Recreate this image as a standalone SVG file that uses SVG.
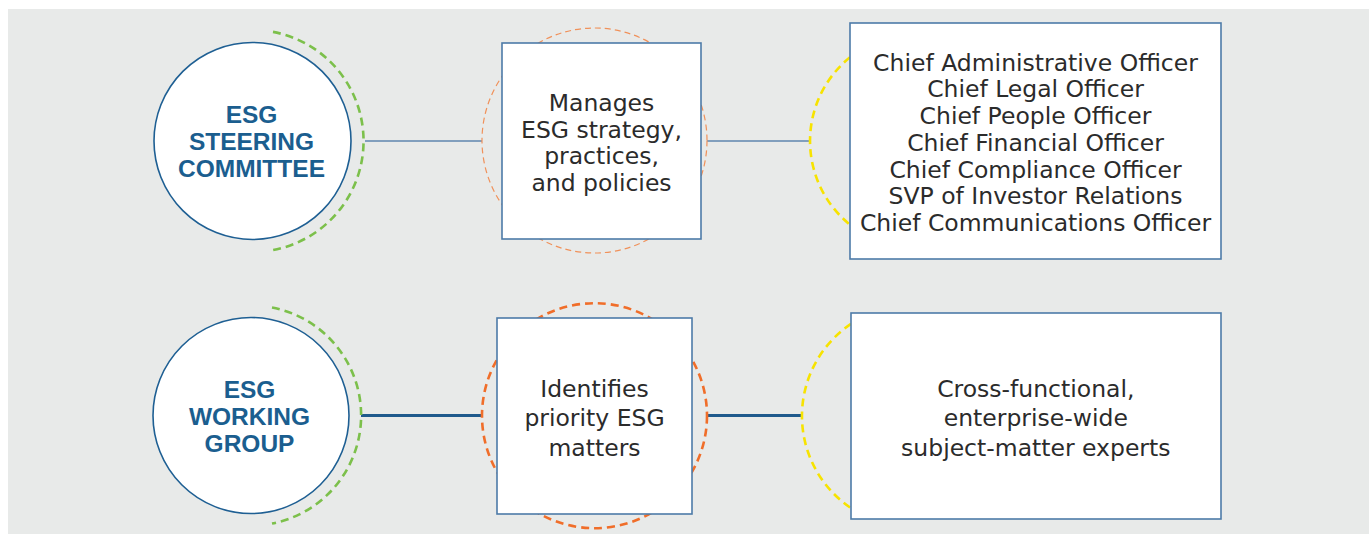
<svg xmlns="http://www.w3.org/2000/svg" width="1369" height="534" viewBox="0 0 1369 534">
<style>
.bg{fill:#E8EAE9}
.circ{fill:#FFFFFF;stroke:#1E5F93;stroke-width:1.6}
.box{fill:#FFFFFF;stroke:#4D7BA8;stroke-width:1.6}
.green{fill:none;stroke:#7CC04B;stroke-width:2.6;stroke-dasharray:8 5}
.orangeThin{fill:none;stroke:#F0915A;stroke-width:1.2;stroke-dasharray:6 4}
.orange{fill:none;stroke:#F06E2A;stroke-width:2.6;stroke-dasharray:8 5}
.yellow{fill:none;stroke:#F7E300;stroke-width:2.6;stroke-dasharray:8 5}
.lineThin{stroke:#5F86AE;stroke-width:1.5}
.lineThick{stroke:#1F5A8C;stroke-width:3}
.head{font-family:"Liberation Sans",Arial,sans-serif;font-weight:bold;font-size:24.5px;fill:#1B5E8F;text-anchor:middle}
.body{font-family:"DejaVu Sans","Liberation Sans",sans-serif;font-size:23.5px;fill:#2B2B2B;text-anchor:middle}
</style>
<rect class="bg" x="8" y="9" width="1361" height="525"/>

<g id="connectors">
  <line class="lineThin" x1="365" y1="141" x2="482" y2="141"/>
  <line class="lineThin" x1="707" y1="141" x2="810" y2="141"/>
  <line class="lineThick" x1="361" y1="415.5" x2="482" y2="415.5"/>
  <line class="lineThick" x1="707" y1="415.5" x2="801" y2="415.5"/>
</g>

<g id="steering-committee">
  <path class="green" d="M 273 31.9 A 111 111 0 0 1 273 250.1"/>
  <circle class="circ" cx="252.5" cy="141" r="98.5"/>
  <text class="head" x="251.5" y="122.7">ESG</text>
  <text class="head" x="251.5" y="150">STEERING</text>
  <text class="head" x="251.5" y="177.3">COMMITTEE</text>
</g>

<g id="manages">
  <circle class="orangeThin" cx="594.5" cy="140.5" r="112.5"/>
  <rect class="box" x="502" y="43" width="199" height="196"/>
  <text class="body" x="601.5" y="111">Manages</text>
  <text class="body" x="601.5" y="137.7">ESG strategy,</text>
  <text class="body" x="601.5" y="164.4">practices,</text>
  <text class="body" x="601.5" y="191">and policies</text>
</g>

<g id="officers">
  <path class="yellow" d="M 850 57.3 A 107.6 107.6 0 0 0 850 224.7"/>
  <rect class="box" x="850" y="23" width="371" height="236"/>
  <text class="body" x="1035.5" y="70.7">Chief Administrative Officer</text>
  <text class="body" x="1035.5" y="97.4">Chief Legal Officer</text>
  <text class="body" x="1035.5" y="124.1">Chief People Officer</text>
  <text class="body" x="1035.5" y="150.8">Chief Financial Officer</text>
  <text class="body" x="1035.5" y="177.5">Chief Compliance Officer</text>
  <text class="body" x="1035.5" y="204.2">SVP of Investor Relations</text>
  <text class="body" x="1035.5" y="230.9">Chief Communications Officer</text>
</g>

<g id="working-group">
  <path class="green" d="M 272 307.5 A 110 110 0 0 1 272 523.5"/>
  <circle class="circ" cx="251" cy="415.5" r="98"/>
  <text class="head" x="249.5" y="398.3">ESG</text>
  <text class="head" x="249.5" y="425">WORKING</text>
  <text class="head" x="249.5" y="452.3">GROUP</text>
</g>

<g id="identifies">
  <circle class="orange" cx="594.5" cy="415.7" r="112.5"/>
  <rect class="box" x="497" y="318" width="195" height="196"/>
  <text class="body" x="594.5" y="396.7">Identifies</text>
  <text class="body" x="594.5" y="426.2">priority ESG</text>
  <text class="body" x="594.5" y="455.7">matters</text>
</g>

<g id="experts">
  <path class="yellow" d="M 851 323.9 A 111 111 0 0 0 851 508.1"/>
  <rect class="box" x="851" y="313" width="370" height="206"/>
  <text class="body" x="1035.8" y="396.7">Cross-functional,</text>
  <text class="body" x="1035.8" y="426.2">enterprise-wide</text>
  <text class="body" x="1035.8" y="455.7">subject-matter experts</text>
</g>
</svg>
